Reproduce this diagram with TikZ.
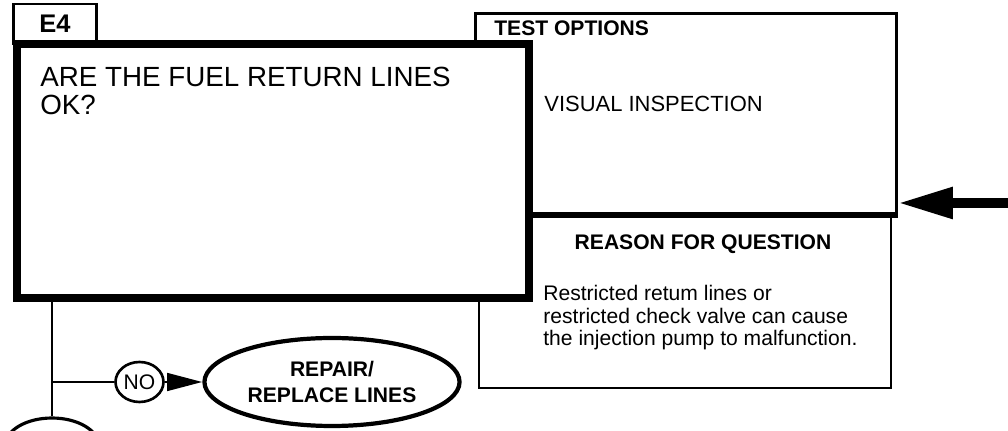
\documentclass[tikz,border=0pt]{standalone}
\usepackage{fontspec}
\setmainfont{Liberation Sans}
\usetikzlibrary{arrows.meta, positioning, calc, shapes.geometric}

\tikzset{
  tabbox/.style={draw, fill=white, line width=1.7pt, minimum width=1.68cm, minimum height=0.8cm, inner sep=0pt},
  qbox/.style={draw, fill=white, line width=4.5pt, minimum width=10.24cm, minimum height=5.08cm},
  optbox/.style={draw, fill=white, line width=1.7pt, minimum width=8.44cm, minimum height=4.02cm},
  whybox/.style={draw, fill=white, line width=1.5pt, minimum width=8.24cm, minimum height=3.48cm},
  answer/.style={draw, ellipse, line width=1.5pt, minimum width=0.96cm, minimum height=0.8cm, inner sep=0pt, font=\fontsize{12}{12}\selectfont},
  action/.style={draw, ellipse, line width=2.4pt, minimum width=4.6cm, minimum height=1.76cm, align=center, font=\fontsize{12}{15}\selectfont\bfseries},
  flow/.style={line width=1.6pt},
}

\begin{document}
\begin{tikzpicture}[x=0.02cm, y=-0.02cm]
  \useasboundingbox (0,0) rectangle (1008,431);
  \clip (0,0) rectangle (1008,431);
  % test options and reason boxes
  \node[optbox] (options) at (686,113.5) {};
  \node[whybox] (reason) at (685,301) {};
  \draw[line width=2.8pt] (options.south west) -- (options.south east);
  % question box with tab
  \node[tabbox, font=\fontsize{14.5}{14.5}\selectfont\bfseries] (tab) at (55,24) {E4};
  \node[qbox] (question) at (273,171) {};
  \node[anchor=north west, inner sep=0pt, align=left, font=\fontsize{15.8}{16}\selectfont] (qtext) at (40,67) {ARE THE FUEL RETURN LINES\\OK?};
  % box texts
  \node[anchor=west, inner sep=0pt, font=\fontsize{12}{12}\selectfont\bfseries] (optlabel) at (494,28) {TEST OPTIONS};
  \node[anchor=west, inner sep=0pt, font=\fontsize{12.5}{12}\selectfont] (opttext) at (544,104) {VISUAL INSPECTION};
  \node[inner sep=0pt, font=\fontsize{12}{12}\selectfont\bfseries] (whylabel) at (703,244) {REASON FOR QUESTION};
  \node[anchor=north west, inner sep=0pt, align=left, font=\fontsize{12}{12.8}\selectfont] (whytext) at (543,285) {Restricted retum lines or\\restricted check valve can cause\\the injection pump to malfunction.};
  % answers
  \coordinate (stem) at (52,298);
  \node[answer] (no) at (139.5,382) {NO};
  \node[action] (repair) at (332,382) {REPAIR/\\REPLACE LINES};
  \node[draw, ellipse, line width=1.8pt, minimum width=1.88cm, minimum height=1.12cm] (yes) at (52,446) {};
  \draw[flow] (stem) -- (yes.north);
  \draw[flow] (stem |- no) -- (no);
  \draw[flow, -{Triangle[length=20pt, width=10pt]}] (no) -- (repair);
  % entry arrow
  \coordinate (feed) at (1010,203);
  \draw[line width=5.2pt, -{Triangle[length=31pt, width=17pt]}] (feed) -- (options.east |- feed);
\end{tikzpicture}
\end{document}
